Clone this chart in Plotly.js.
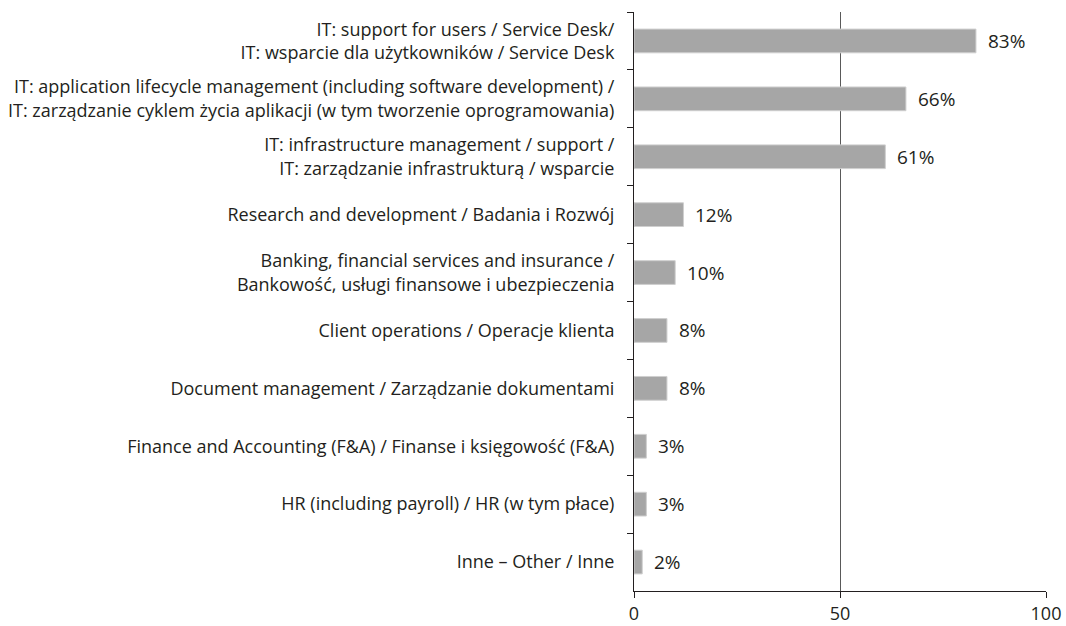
<!DOCTYPE html>
<html><head><meta charset="utf-8">
<script src="https://cdn.plot.ly/plotly-3.0.1.min.js"></script>
<style>html,body{margin:0;padding:0;background:#fff}#chart{width:1066px;height:626px}</style>
</head><body><div id="chart"></div>
<script>
const categories = [
  "IT: support for users / Service Desk/<br>IT: wsparcie dla użytkowników / Service Desk",
  "IT: application lifecycle management (including software development) /<br>IT: zarządzanie cyklem życia aplikacji (w tym tworzenie oprogramowania)",
  "IT: infrastructure management / support /<br>IT: zarządzanie infrastrukturą / wsparcie",
  "Research and development / Badania i Rozwój",
  "Banking, financial services and insurance /<br>Bankowość, usługi finansowe i ubezpieczenia",
  "Client operations / Operacje klienta",
  "Document management / Zarządzanie dokumentami",
  "Finance and Accounting (F&A) / Finanse i księgowość (F&A)",
  "HR (including payroll) / HR (w tym płace)",
  "Inne – Other / Inne"
];
const values = [83, 66, 61, 12, 10, 8, 8, 3, 3, 2];
const valueLabels = ["83%", "66%", "61%", "12%", "10%", "8%", "8%", "3%", "3%", "2%"];
const xTicks = [0, 50, 100];

const FONT = "'Open Sans', 'Noto Sans', sans-serif";
const trace = {
  type: "bar", orientation: "h",
  x: values, y: categories,
  marker: {color: "#a6a6a6", line: {color: "#cfcfcf", width: 1}},
  hoverinfo: "none"
};
const annotations = values.map((v, i) => ({
  x: v, y: categories[i], xref: "x", yref: "y",
  text: valueLabels[i], showarrow: false, xanchor: "left", xshift: 10,
  font: {family: FONT, size: 19, color: "#231f20"}
}));
const layout = {
  width: 1066, height: 626,
  margin: {l: 634, r: 20, t: 12, b: 35},
  paper_bgcolor: "#fff", plot_bgcolor: "#fff",
  showlegend: false,
  bargap: 0.59,
  font: {family: FONT, size: 18, color: "#231f20"},
  xaxis: {
    range: [0, 100], tickvals: xTicks, ticktext: xTicks.map(String),
    showgrid: true, gridcolor: "#595959", gridwidth: 1,
    showline: true, linecolor: "#231f20", linewidth: 1,
    ticks: "outside", ticklen: 6, tickcolor: "#231f20",
    zeroline: false, fixedrange: true,
    ticklabelstandoff: 0,
    tickfont: {family: FONT, size: 18, color: "#231f20"}
  },
  yaxis: {
    autorange: "reversed", type: "category",
    showline: true, linecolor: "#231f20", linewidth: 1,
    ticks: "outside", ticklen: 6, tickcolor: "#231f20", tickson: "boundaries",
    showgrid: false, zeroline: false, fixedrange: true,
    ticklabelstandoff: 15,
    tickfont: {family: FONT, size: 18, color: "#231f20"}
  },
  annotations: annotations
};
Plotly.newPlot("chart", [trace], layout, {displayModeBar: false, staticPlot: true});
</script></body></html>
